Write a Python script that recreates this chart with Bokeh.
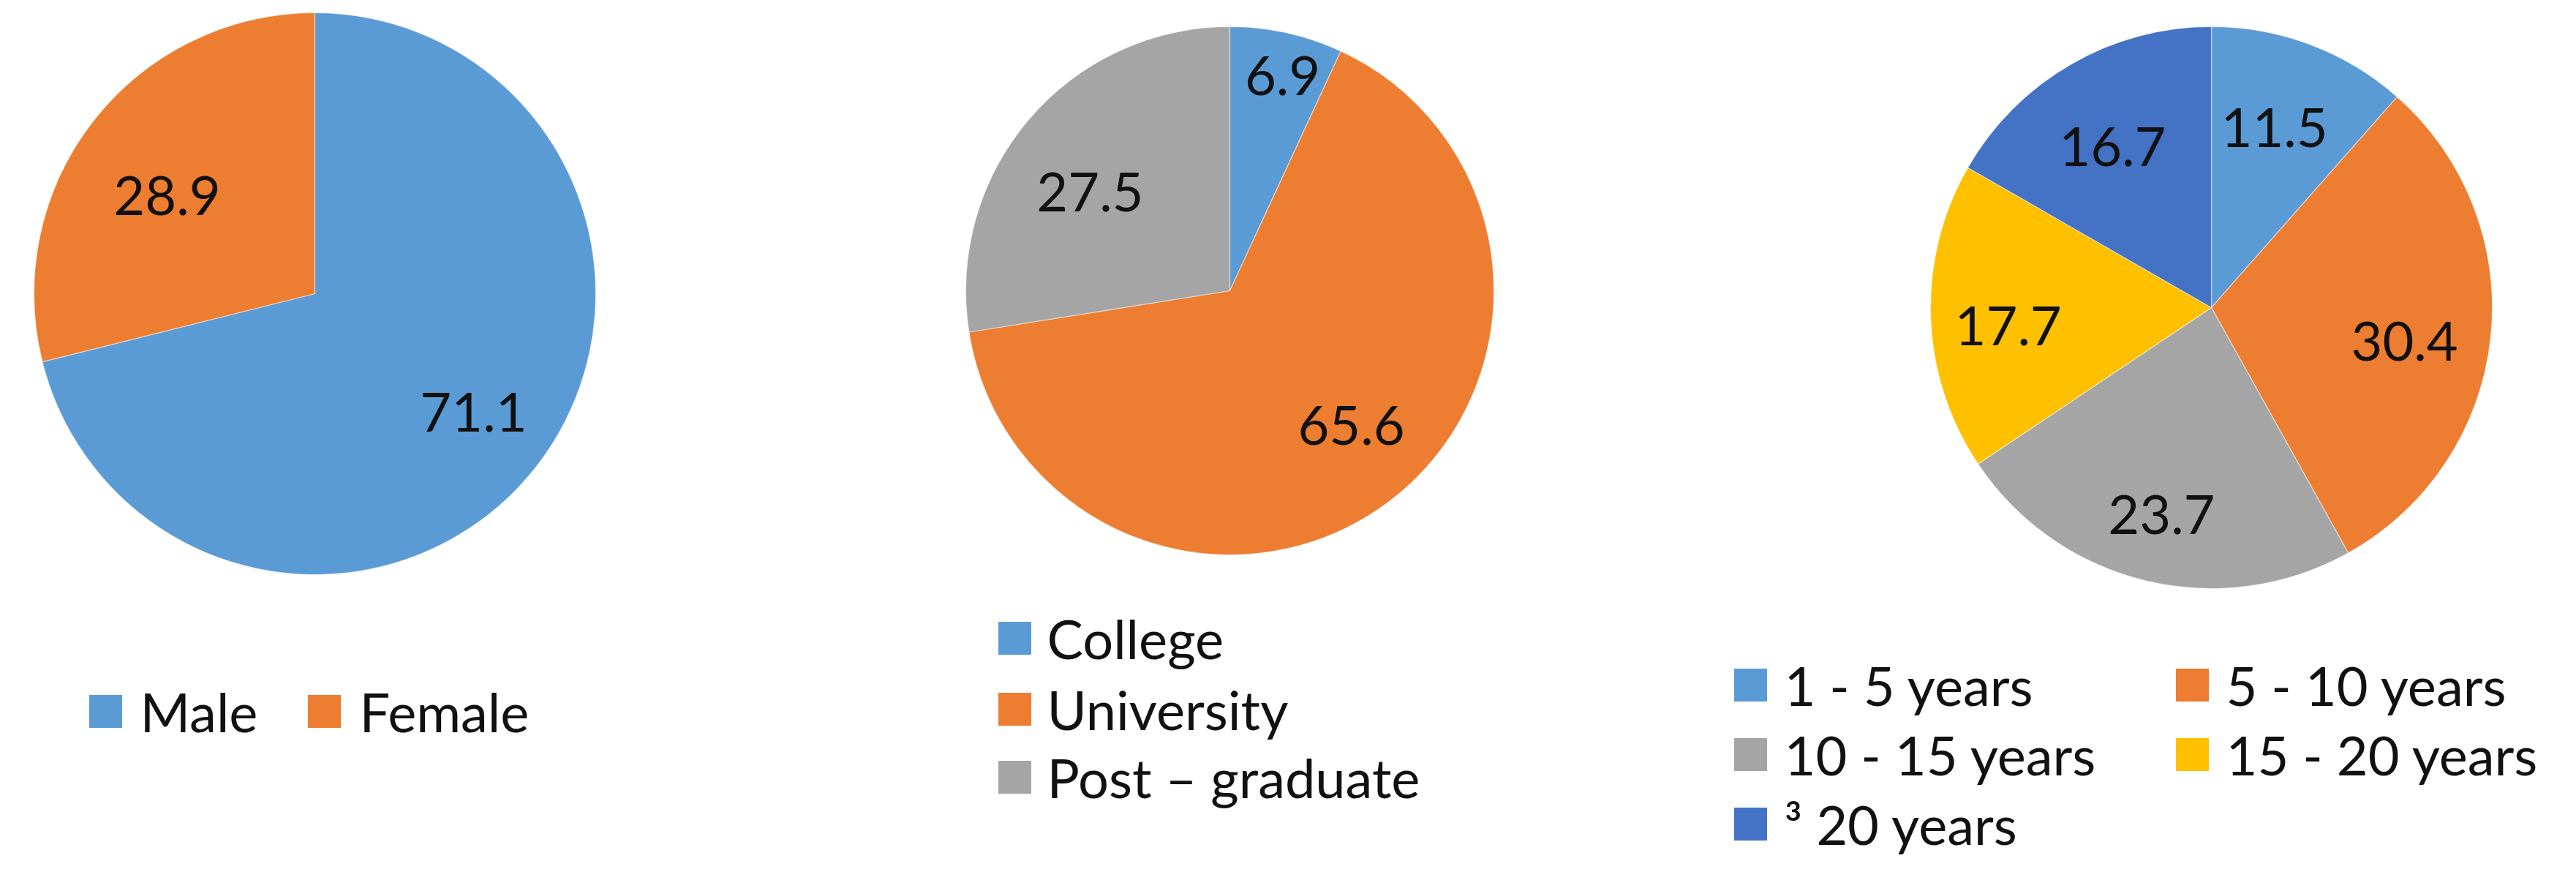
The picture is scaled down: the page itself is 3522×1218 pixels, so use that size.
import numpy as np
from bokeh.plotting import figure
from bokeh.models import Range1d, ColumnDataSource
from bokeh.core.properties import value
from bokeh.embed import file_html
from bokeh.resources import INLINE

# ---------------- data ----------------
gender_labels = ["Male", "Female"]
gender_values = [71.1, 28.9]

edu_labels = ["College", "University", "Post \u2013 graduate"]
edu_values = [6.9, 65.6, 27.5]

exp_labels = ["1 - 5 years", "5 - 10 years", "10 - 15 years", "15 - 20 years", "\u00b3 20 years"]
exp_values = [11.5, 30.4, 23.7, 17.7, 16.7]

# ---------------- style / layout ----------------
BLUE, ORANGE, GRAY, YELLOW, DBLUE = "#5B9BD5", "#ED7D31", "#A5A5A5", "#FFC000", "#4472C4"
FONT = "Lato"
FS = "74px"
TEXT_COLOR = "#111111"
BASE_SHIFT = 7.5  # visual centre of the digits sits above the 'middle' anchor

W, H = 3506, 1202


def X(sx):
    return sx - 8


def Y(sy):
    return H - (sy - 8)


pies = [
    dict(labels=gender_labels, values=gender_values, colors=[BLUE, ORANGE],
         center=(438, 409), r=384,
         label_frac=[0.693, 0.643], label_dang=[-2.6, -2.9],
         legend=[(152, 980, 199), (451, 980, 499)]),
    dict(labels=edu_labels, values=edu_values, colors=[BLUE, ORANGE, GRAY],
         center=(1689, 405), r=361,
         label_frac=[0.86, 0.672, 0.661], label_dang=[1.0, -6.1, -3.7],
         legend=[(1395, 880, 1439), (1395, 977, 1439), (1395, 1070, 1439)]),
    dict(labels=exp_labels, values=exp_values, colors=[BLUE, ORANGE, GRAY, YELLOW, DBLUE],
         center=(3031, 428), r=384,
         label_frac=[0.696, 0.695, 0.738, 0.725, 0.688],
         label_dang=[-1.9, 2.1, 0.4, -1.7, -0.7],
         legend=[(2401, 944, 2447), (3005, 944, 3051), (2401, 1039, 2447),
                 (3005, 1039, 3051), (2401, 1134, 2447)]),
]

SQ = 45

p = figure(width=W, height=H, x_range=Range1d(0, W), y_range=Range1d(0, H),
           output_backend="svg", toolbar_location=None, min_border=0)
p.axis.visible = False
p.grid.visible = False
p.outline_line_color = None
p.background_fill_color = "white"
p.border_fill_color = "white"

for pie in pies:
    vals = np.array(pie["values"], dtype=float)
    frac = vals / vals.sum()
    cum_end = np.cumsum(frac)
    cum_start = cum_end - frac
    start = np.pi / 2 - 2 * np.pi * cum_start
    end = np.pi / 2 - 2 * np.pi * cum_end
    cx, cy = X(pie["center"][0]), Y(pie["center"][1])
    src = ColumnDataSource(dict(x=[cx] * len(vals), y=[cy] * len(vals),
                                start=start, end=end, color=pie["colors"]))
    p.wedge(x="x", y="y", radius=pie["r"], start_angle="start", end_angle="end",
            direction="clock", fill_color="color", line_color="white",
            line_width=1.2, line_alpha=0.5, source=src)

    # data labels: along each slice's mid angle (clockwise from 12 o'clock)
    mid_cw = 2 * np.pi * (cum_start + cum_end) / 2 + np.radians(pie["label_dang"])
    d = np.array(pie["label_frac"]) * pie["r"]
    lx = cx + d * np.sin(mid_cw)
    ly = cy + d * np.cos(mid_cw) - BASE_SHIFT
    lsrc = ColumnDataSource(dict(x=lx, y=ly, t=["%.1f" % v for v in vals]))
    p.text(x="x", y="y", text="t", source=lsrc, text_font=value(FONT),
           text_font_size=FS, text_align="center", text_baseline="middle",
           text_color=TEXT_COLOR)

    # legend
    sqx = [X(e[0]) for e in pie["legend"]]
    sqy = [Y(e[1]) for e in pie["legend"]]
    tx = [X(e[2]) for e in pie["legend"]]
    gsrc = ColumnDataSource(dict(x=sqx, y=sqy, tx=tx, t=pie["labels"], color=pie["colors"]))
    p.rect(x="x", y="y", width=SQ, height=SQ, fill_color="color", line_color=None, source=gsrc)
    p.text(x="tx", y="y", text="t", source=gsrc, text_font=value(FONT),
           text_font_size=FS, text_align="left", text_baseline="middle",
           text_color=TEXT_COLOR)

open("out.html", "w").write(file_html(p, INLINE))
